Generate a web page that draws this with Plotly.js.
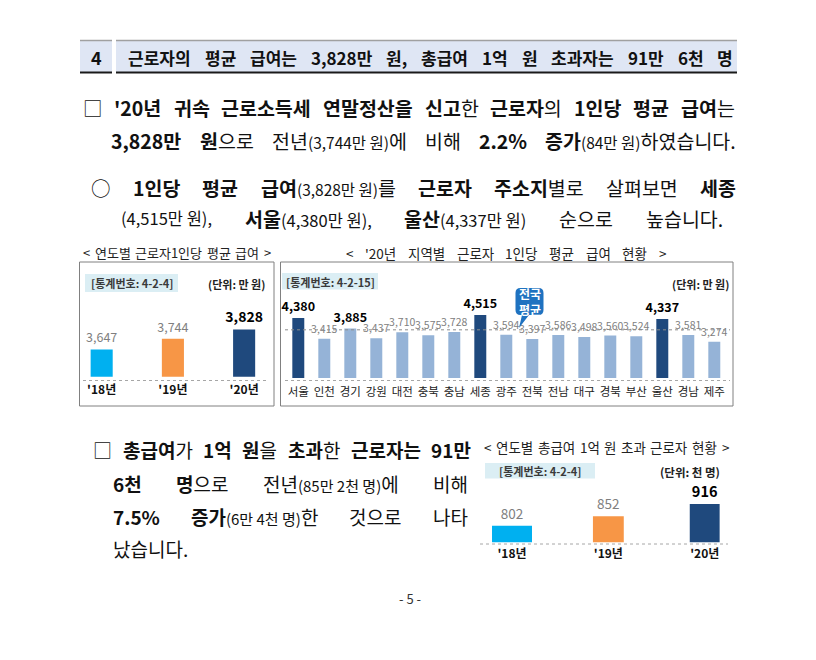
<!DOCTYPE html>
<html><head><meta charset="utf-8">
<script src="https://cdn.plot.ly/plotly-3.0.1.min.js"></script>
<style>html,body{margin:0;padding:0;background:#fff;} #chart{width:816px;height:660px;}</style>
</head><body><div id="chart"></div>
<script>
// ---------- data ----------
const yearCats = ["'18년", "'19년", "'20년"];
const avgPay = [3647, 3744, 3828];            // 만 원
const regions = ["서울","인천","경기","강원","대전","충북","충남","세종","광주","전북","전남","대구","경북","부산","울산","경남","제주"];
const regionPay = [4380,3415,3885,3437,3710,3575,3728,4515,3594,3397,3586,3498,3560,3524,4337,3581,3274];
const boldRegions = ["서울","경기","세종","울산"];
const darkRegions = ["서울","세종","울산"];
const nationalAvg = 3828;
const highEarners = [802, 852, 916];           // 천 명

// ---------- helpers ----------
const W = 816, H = 660;
const FONT = '"Noto Sans CJK KR", "Noto Sans", sans-serif';
const px = x => x / W, py = y => 1 - y / H;
const fmt = v => v.toLocaleString('en-US');
const ctx = document.createElement('canvas').getContext('2d');

function ann(text, x, y, o) {
  return Object.assign({text, x: px(x), y: py(y), xref: 'paper', yref: 'paper', showarrow: false,
    xanchor: 'left', yanchor: 'middle', borderpad: 0, font: {family: FONT, size: 19, color: '#111'}}, o || {});
}
// parse a word: **bold** and {small}
function parseWord(w) {
  const runs = []; let bold = false, small = false;
  w.split(/(\*\*|\{|\})/).forEach(tok => {
    if (tok === '**') bold = !bold;
    else if (tok === '{') small = true;
    else if (tok === '}') small = false;
    else if (tok) runs.push({t: tok, bold, small});
  });
  return runs;
}
// justified line: words spread between x0 and x1
function justify(words, x0, x1, y, fs, sfs, color, allBold) {
  const out = [];
  const info = words.map(w => {
    const runs = parseWord(w);
    let width = 0, html = '';
    runs.forEach(r => {
      const b = r.bold || allBold, s = r.small ? sfs : fs;
      ctx.font = (b ? 'bold ' : '') + s + 'px ' + FONT;
      width += ctx.measureText(r.t).width;
      let h = r.t.replace(/</g, '&lt;').replace(/>/g, '&gt;');
      if (r.small) h = `<span style="font-size:${sfs}px">${h}</span>`;
      if (b) h = '<b>' + h + '</b>';
      html += h;
    });
    return {width, html};
  });
  const total = info.reduce((a, b) => a + b.width, 0);
  const g = x1 === null || words.length < 2 ? 0 : (x1 - x0 - total) / (words.length - 1);
  let x = x0;
  info.forEach(it => {
    out.push(ann(it.html, x, y, {font: {family: FONT, size: fs, color: color || '#111'}}));
    x += it.width + g;
  });
  return out;
}

// ---------- traces ----------
const t1 = {
  type: 'bar', x: yearCats, y: avgPay, xaxis: 'x', yaxis: 'y', width: 0.31,
  marker: {color: ['#00b0f0', '#f79646', '#1f497d']},
  text: avgPay.map((v, i) => i === avgPay.length - 1 ? '<b>' + fmt(v) + '</b>' : fmt(v)),
  textposition: 'outside', cliponaxis: false, constraintext: 'none',
  textfont: {family: FONT, size: avgPay.map((v, i) => i === avgPay.length - 1 ? 14 : 12.5),
             color: avgPay.map((v, i) => i === avgPay.length - 1 ? '#000' : '#7f7f7f')},
  hoverinfo: 'skip'
};
const t2 = {
  type: 'bar', x: regions, y: regionPay, xaxis: 'x2', yaxis: 'y2', width: 0.46,
  marker: {color: regions.map(r => darkRegions.includes(r) ? '#1f497d' : '#95b3d7')},
  text: regionPay.map((v, i) => boldRegions.includes(regions[i]) ? '<b>' + fmt(v) + '</b>' : fmt(v)),
  textposition: 'outside', cliponaxis: false, constraintext: 'none',
  textfont: {family: FONT, size: regions.map(r => boldRegions.includes(r) ? 12.5 : 10.5),
             color: regions.map(r => boldRegions.includes(r) ? '#000' : '#808080')},
  hoverinfo: 'skip'
};
const t3 = {
  type: 'bar', x: yearCats, y: highEarners, xaxis: 'x3', yaxis: 'y3', width: [0.415, 0.32, 0.31],
  marker: {color: ['#00b0f0', '#f79646', '#1f497d']},
  text: highEarners.map((v, i) => i === highEarners.length - 1 ? '<b>' + fmt(v) + '</b>' : fmt(v)),
  textposition: 'outside', cliponaxis: false, constraintext: 'none',
  textfont: {family: FONT, size: highEarners.map((v, i) => i === highEarners.length - 1 ? 14.5 : 13.5),
             color: highEarners.map((v, i) => i === highEarners.length - 1 ? '#000' : '#7f7f7f')},
  hoverinfo: 'skip'
};

const hiddenY = {showgrid: false, zeroline: false, showticklabels: false, showline: false, ticks: ''};
const baseX = {type: 'category', showgrid: false, zeroline: false, showline: false, ticks: ''};

// ---------- shapes ----------
const rectPx = (x0, y0, x1, y1, o) => Object.assign({type: 'rect', xref: 'paper', yref: 'paper',
  x0: px(x0), x1: px(x1), y0: py(y1), y1: py(y0)}, o);
const linePx = (x0, y0, x1, y1, o) => Object.assign({type: 'line', xref: 'paper', yref: 'paper',
  x0: px(x0), x1: px(x1), y0: py(y0), y1: py(y1)}, o);

function bubble(x0, y0, x1, y1, r, tail) {
  const P = (x, y) => px(x).toFixed(5) + ',' + py(y).toFixed(5);
  return 'M' + P(x0 + r, y0) + ' L' + P(x1 - r, y0) + ' Q' + P(x1, y0) + ' ' + P(x1, y0 + r) +
    ' L' + P(x1, y1 - r) + ' Q' + P(x1, y1) + ' ' + P(x1 - r, y1) +
    ' L' + P(tail[2], y1) + ' L' + P(tail[0], tail[1]) + ' L' + P(tail[3], y1) +
    ' L' + P(x0 + r, y1) + ' Q' + P(x0, y1) + ' ' + P(x0, y1 - r) +
    ' L' + P(x0, y0 + r) + ' Q' + P(x0, y0) + ' ' + P(x0 + r, y0) + ' Z';
}

const dotGray = {color: '#a6a6a6', width: 1, dash: 'dot'};
const shapes = [
  rectPx(80, 41, 112, 72, {fillcolor: '#dfe6f4', line: {width: 0}, layer: 'below'}),
  rectPx(116, 41, 737, 72, {fillcolor: '#dfe6f4', line: {width: 0}, layer: 'below'}),
  linePx(80, 40.5, 112, 40.5, {line: {color: '#a0a0a0', width: 1.5}}),
  linePx(116, 40.5, 737, 40.5, {line: {color: '#a0a0a0', width: 1.5}}),
  linePx(80, 72.5, 112, 72.5, {line: {color: '#1a1a1a', width: 2}}),
  linePx(116, 72.5, 737, 72.5, {line: {color: '#1a1a1a', width: 2}}),
  rectPx(79.5, 262, 274, 406, {line: {color: '#808080', width: 1}}),
  rectPx(280.5, 262, 733, 406, {line: {color: '#808080', width: 1}}),
  rectPx(85, 274, 178, 292, {fillcolor: '#dbeef4', line: {width: 0}, layer: 'below'}),
  rectPx(282, 273, 378, 289.5, {fillcolor: '#dbeef4', line: {width: 0}, layer: 'below'}),
  rectPx(485, 463, 595, 478.5, {fillcolor: '#dbeef4', line: {width: 0}, layer: 'below'}),
  linePx(83, 380.5, 267, 380.5, {line: dotGray}),
  linePx(285, 380.5, 730, 380.5, {line: dotGray}),
  linePx(480, 544, 728, 544, {line: dotGray}),
  {type: 'line', xref: 'paper', yref: 'y2', x0: px(285), x1: px(730), y0: nationalAvg, y1: nationalAvg,
   line: {color: '#8c8c8c', width: 1, dash: 'dot'}},
  {type: 'path', xref: 'paper', yref: 'paper', path: bubble(515.5, 288, 543.5, 315, 5, [519, 328, 522, 529]),
   fillcolor: '#1f72c0', line: {width: 0}}
];

// ---------- text ----------
const annotations = [
  ann('<b>4</b>', 96, 57, {xanchor: 'center', font: {family: FONT, size: 18, color: '#111'}}),
  ...justify('근로자의 평균 급여는 3,828만 원, 총급여 1억 원 초과자는 91만 6천 명'.split(' '), 127, 732, 57, 17, 17, '#111', true),

  ...justify(["□", "**'20년**", "**귀속**", "**근로소득세**", "**연말정산을**", "**신고**한", "**근로자**의", "**1인당**", "**평균**", "**급여**는"], 82, 734, 107, 19.5, 15.5),
  ...justify(["**3,828만**", "**원**으로", "전년{(3,744만 원)}에", "비해", "**2.2%**", "**증가**{(84만 원)}하였습니다."], 110, 735, 140, 19.5, 15.5),
  ...justify(["○", "**1인당**", "**평균**", "**급여**{(3,828만 원)}를", "**근로자**", "**주소지**별로", "살펴보면", "**세종**"], 90, 735, 187, 19.5, 15.5),
  ...justify(["{(4,515만 원),}", "**서울**{(4,380만 원),}", "**울산**{(4,337만 원)}", "순으로", "높습니다."], 120, 722, 218, 19.5, 16.5),

  ...justify('< 연도별 근로자1인당 평균 급여 >'.split(' '), 82, 270, 253, 13, 13, '#222'),
  ...justify("< '20년 지역별 근로자 1인당 평균 급여 현황 >".split(' '), 345, 665, 253, 13.5, 13.5, '#222'),
  ann('<b>[통계번호: 4-2-4]</b>', 131.5, 283, {xanchor: 'center', font: {family: FONT, size: 11, color: '#3a3a3a'}}),
  ann('<b>(단위: 만 원)</b>', 266, 284, {xanchor: 'right', font: {family: FONT, size: 11, color: '#222'}}),
  ann('<b>[통계번호: 4-2-15]</b>', 330, 281.5, {xanchor: 'center', font: {family: FONT, size: 11, color: '#3a3a3a'}}),
  ann('<b>(단위: 만 원)</b>', 730, 283.5, {xanchor: 'right', font: {family: FONT, size: 11, color: '#222'}}),
  ann('<b>전국<br>평균</b>', 529.5, 301.5, {xanchor: 'center', font: {family: FONT, size: 12, color: '#fff'}}),

  ...justify(["□", "**총급여**가", "**1억**", "**원**을", "**초과**한", "**근로자는**", "**91만**"], 92, 470, 449, 19, 15),
  ...justify(["**6천**", "**명**으로", "전년{(85만 2천 명)}에", "비해"], 112, 467, 483, 19, 15),
  ...justify(["**7.5%**", "**증가**{(6만 4천 명)}한", "것으로", "나타"], 112, 467, 516, 19, 15),
  ...justify(["났습니다."], 112, null, 548, 19, 15),

  ...justify('< 연도별 총급여 1억 원 초과 근로자 현황 >'.split(' '), 483, 728, 446.5, 13.5, 13.5, '#222'),
  ann('<b>[통계번호: 4-2-4]</b>', 540, 470.5, {xanchor: 'center', font: {family: FONT, size: 11, color: '#3a3a3a'}}),
  ann('<b>(단위: 천 명)</b>', 721, 471.5, {xanchor: 'right', font: {family: FONT, size: 11.5, color: '#222'}}),

  ann('- 5 -', 410, 598, {xanchor: 'center', font: {family: FONT, size: 13, color: '#333'}})
];

const layout = {
  width: W, height: H, margin: {l: 0, r: 0, t: 0, b: 0},
  paper_bgcolor: '#fff', plot_bgcolor: 'rgba(0,0,0,0)',
  font: {family: FONT, color: '#111'}, showlegend: false, hovermode: false,
  xaxis: Object.assign({}, baseX, {domain: [px(80.3), px(265.5)], range: [-0.3, 2.3], anchor: 'y',
    tickvals: yearCats, ticktext: yearCats.map(c => '<b>' + c + '</b>'),
    tickfont: {family: FONT, size: 12, color: '#111'}, ticklabelstandoff: 4}),
  yaxis: Object.assign({}, hiddenY, {domain: [py(376.7), py(290)], range: [3400, 4185], anchor: 'x'}),
  xaxis2: Object.assign({}, baseX, {domain: [px(285.3), px(727.3)], range: [-0.5, 16.5], anchor: 'y2',
    tickfont: {family: FONT, size: 11.5, color: '#222'}, ticklabelstandoff: 5}),
  yaxis2: Object.assign({}, hiddenY, {domain: [py(378), py(290)], range: [1580, 5686], anchor: 'x2'}),
  xaxis3: Object.assign({}, baseX, {domain: [px(483.1), px(733.6)], range: [-0.3, 2.3], anchor: 'y3',
    tickvals: yearCats, ticktext: yearCats.map(c => '<b>' + c + '</b>'),
    tickfont: {family: FONT, size: 12, color: '#111'}, ticklabelstandoff: 3}),
  yaxis3: Object.assign({}, hiddenY, {domain: [py(542.3), py(480)], range: [715, 1043], anchor: 'x3'}),
  shapes: shapes,
  annotations: annotations
};

Plotly.newPlot('chart', [t1, t2, t3], layout, {staticPlot: true, displayModeBar: false});
</script>
</body></html>
